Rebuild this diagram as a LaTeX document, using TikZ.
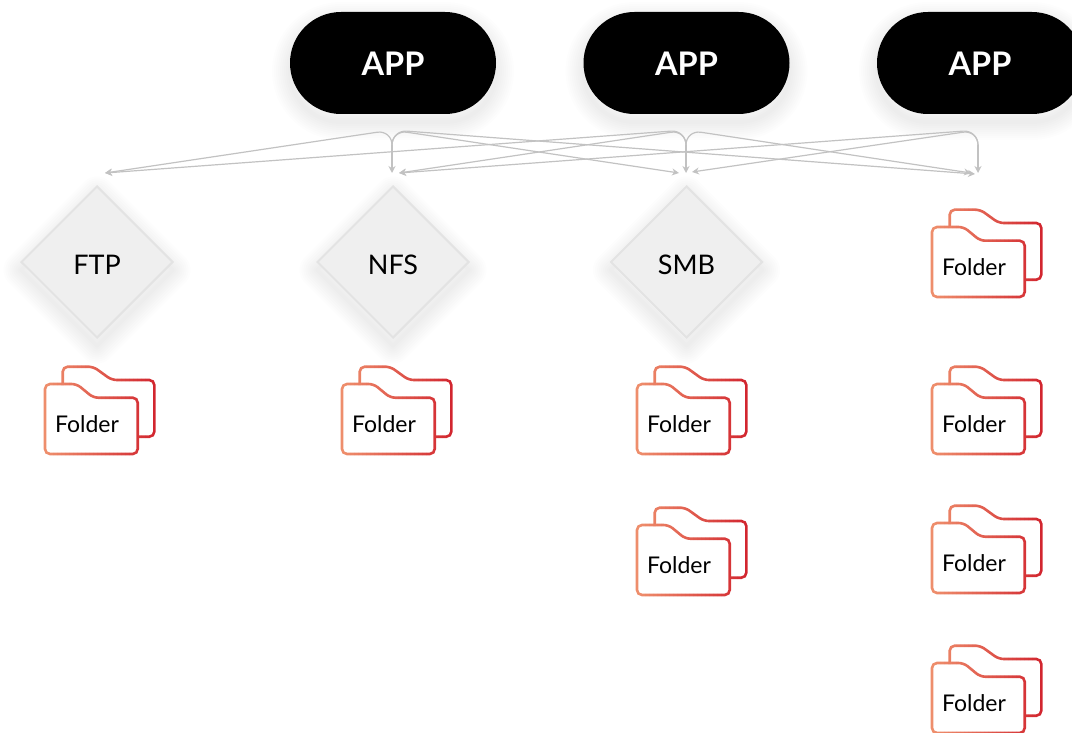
\documentclass[tikz,border=0pt]{standalone}
\usepackage{fontspec}
\setmainfont{Lato}
\usepackage{tikz}
\usetikzlibrary{arrows.meta}
\usetikzlibrary{shapes.geometric}
\usetikzlibrary{shapes.misc}
\definecolor{folderorange}{HTML}{EE8E6C}
\definecolor{folderred}{HTML}{D2262F}
\definecolor{linkgray}{HTML}{C2C2C2}
\definecolor{gatefill}{HTML}{EFEFEF}
\definecolor{gateline}{HTML}{E3E3E3}

\begin{document}
\begin{tikzpicture}[
x=1pt, y=-1pt,
softshade/.style={preaction={draw=black, opacity=0.007, line join=round, line width=#1, transform canvas={yshift=-8pt}}},
shaded/.style={softshade=36pt, softshade=32pt, softshade=28pt, softshade=24pt, softshade=20pt, softshade=16pt, softshade=12pt, softshade=8pt, softshade=4pt},
appbox/.style={rounded rectangle, shaded, fill=black, text=white, minimum width=206pt, minimum height=102pt, inner sep=0pt, outer sep=0pt, text height=25pt, text depth=0pt, font=\fontsize{32.5}{33}\selectfont\bfseries, node distance=293.5pt},
gatebox/.style={diamond, shaded, draw=gateline, line width=2pt, fill=gatefill, minimum width=152pt, minimum height=152pt, aspect=1, inner sep=0pt, text height=24pt, text depth=0pt, font=\fontsize{27}{27}\selectfont, node distance=199pt},
link/.style={draw=linkgray, line width=1.2pt, rounded corners=15pt, -{Stealth[length=7pt, width=7pt]}},
folderlabel/.style={inner sep=0pt, font=\fontsize{23}{23}\selectfont},
folder/.pic={
\foreach \sx in {0,4,...,108}{
\pgfmathsetmacro{\pct}{\sx/108*100}
\begin{scope}
\clip (\sx,-4) rectangle (\sx+4,92);
\draw[color=folderred!\pct!folderorange, line width=2.6pt, rounded corners=5pt]
(0,18) -- (31.7,18) -- (48.3,31.7) -- (92.7,31.7) -- (92.7,88) -- (0,88) -- cycle;
\draw[color=folderred!\pct!folderorange, line width=2.6pt, rounded corners=5pt]
(17.7,19) -- (17.7,0.7) -- (48.3,0.7) -- (66.7,14) -- (109.3,14) -- (109.3,70.7) -- (93,70.7);
\end{scope}
}
\begin{scope}
\clip (-4,-4) rectangle (0,92);
\draw[color=folderorange, line width=2.6pt, rounded corners=5pt]
(0,18) -- (31.7,18) -- (48.3,31.7) -- (92.7,31.7) -- (92.7,88) -- (0,88) -- cycle;
\end{scope}
\node[folderlabel] (-label) at (42,58) {Folder};
}
]
\useasboundingbox (0,0) rectangle (1072,733);

\node[appbox] (app1) at (393,63) {APP};
\node[appbox, right of=app1] (app2) {APP};
\node[appbox, right of=app2] (app3) {APP};
\node[gatebox, below of=app1] (nfs) {NFS};
\node[gatebox, below of=app2] (smb) {SMB};
\node[gatebox, left of=nfs, node distance=296pt] (ftp) {FTP};

\pic (folder1) at (45,366) {folder};
\pic (folder2) at (342,366) {folder};
\pic (folder3) at (637,366) {folder};
\pic (folder4) at (637,507) {folder};
\pic (folder5) at (932,209) {folder};
\pic (folder6) at (932,366) {folder};
\pic (folder7) at (932,505) {folder};
\pic (folder8) at (932,645) {folder};

% fork points under each app
\coordinate (fork1) at (392,145);
\coordinate (fork2) at (686,145);
\coordinate (fork3) at (978,145);
\coordinate (top1) at (392,130);
\coordinate (top2) at (686,130);
\coordinate (top3) at (978,130);

% arrow ends above each column
\coordinate (inftp) at (105,173);
\coordinate (innfsa) at (392,173);
\coordinate (innfsb) at (399,173);
\coordinate (insmba) at (679,173);
\coordinate (insmbb) at (686,173);
\coordinate (insmbc) at (692,172);
\coordinate (indira) at (971,173);
\coordinate (indirb) at (975,174);
\coordinate (indirc) at (978,173);

\draw[link] (fork1) -- (innfsa);
\draw[link] (fork1) -- (top1) -- (inftp);
\draw[link] (fork1) -- (top1) -- (insmba);
\draw[link] (fork1) -- (top1) -- (indirb);
\draw[link] (fork2) -- (insmbb);
\draw[link] (fork2) -- (top2) -- (inftp);
\draw[link] (fork2) -- (top2) -- (innfsb);
\draw[link] (fork2) -- (top2) -- (indira);
\draw[link] (fork3) -- (indirc);
\draw[link] (fork3) -- (top3) -- (innfsb);
\draw[link] (fork3) -- (top3) -- (insmbc);
\end{tikzpicture}
\end{document}
